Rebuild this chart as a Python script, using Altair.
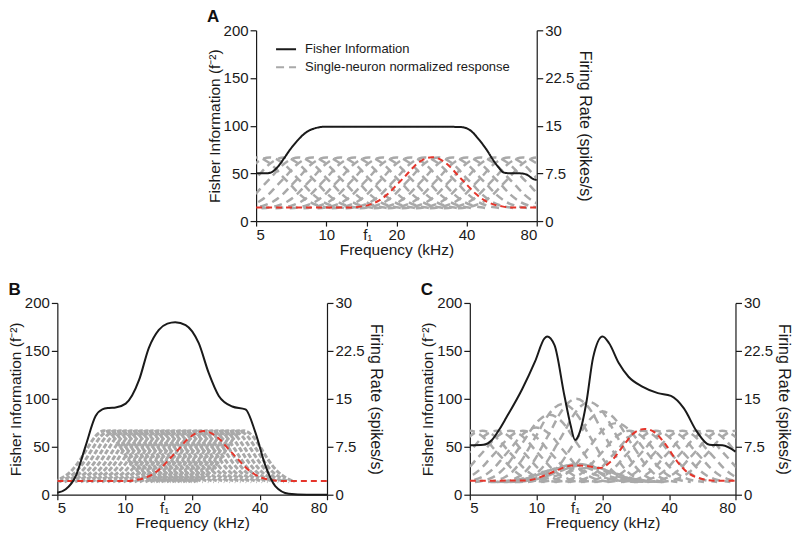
import altair as alt
import pandas as pd

FONT = "Liberation Sans"
INK = "#1a1a1a"
GRAY = "#a9a9a9"
RED = "#e5352b"
BASE_RATE = 2.0
RED_BASE = 2.15
SERIES = ["Fisher Information", "Single-neuron normalized response"]

# single-neuron tuning profiles, offsets in octaves
PROFILE_OCT = [-1.125, -1.0, -0.875, -0.75, -0.625, -0.5, -0.375, -0.25, -0.125, 0.0,
               0.125, 0.25, 0.375, 0.5, 0.625, 0.75, 0.875, 1.0, 1.125]
PROFILE_WIDE = [0.0, 0.02, 0.06, 0.14, 0.27, 0.45, 0.63, 0.82, 0.95, 1.0,
                0.95, 0.82, 0.63, 0.45, 0.27, 0.14, 0.06, 0.02, 0.0]
NARROW_OCT = [-0.75, -0.625, -0.5, -0.375, -0.25, -0.125, 0.0,
              0.125, 0.25, 0.375, 0.5, 0.625, 0.75]
PROFILE_NARROW = [0.0, 0.08, 0.2, 0.4, 0.66, 0.9, 1.0,
                  0.9, 0.66, 0.4, 0.2, 0.08, 0.0]
RED_EDGES = [5, 80]

# ---- panel A ----
A_FREQ = [5, 5.5, 5.8, 6.2, 6.6, 7.0, 7.5, 8.2, 9.0, 10, 15, 20, 30, 38, 41, 45.7,
          49, 52, 55, 57.6, 62, 68, 72, 77.5, 80]
A_FISHER = [50, 50, 51, 57, 66, 75, 84, 93, 97.5, 99, 99, 99, 99, 98.5, 96, 84,
            74, 64, 56, 51, 50, 50, 49, 44, 43]
A_GRAY_CENTERS = [5.0, 5.7, 6.6, 7.6, 8.7, 10.0, 11.5, 13.2, 15.2, 17.4, 20.0, 23.0,
                  26.4, 30.3, 34.8, 40.0, 45.9, 52.8, 60.6, 69.6, 80.0]
A_GRAY_PEAKS = [10, 10, 10, 10, 10, 10, 10, 10, 10, 10, 10, 10,
                10, 10, 10, 10, 10, 10, 10, 10, 10]
A_RED_CENTER = 28.4
A_RED_PEAK = 10.05

# ---- panel B ----
B_FREQ = [5, 5.45, 6.03, 6.69, 7.41, 7.94, 8.5, 9.1, 10.1, 11.6, 12.8, 14.2, 15.5,
          16.8, 18.7, 21.4, 23.7, 26.3, 30.2, 34.6, 38.3, 42.5, 47, 54, 65, 80]
B_FISHER = [2, 5.6, 19, 51, 82, 89, 90.5, 91, 95, 120, 153, 172, 178.5,
            180, 177, 158, 127, 103, 92, 89, 65, 30, 9, 1, 0, 0]
B_GRAY_CENTERS = [8.1, 8.56, 9.05, 9.57, 10.1, 10.7, 11.3, 11.9, 12.6, 13.3, 14.1,
                  14.9, 15.7, 16.6, 17.6, 18.6, 19.6, 20.8, 21.9, 23.2, 24.5, 25.9,
                  27.4, 28.9, 30.6, 32.3, 34.1]
B_GRAY_PEAKS = [10, 10, 10, 10, 10, 10, 10, 10, 10, 10, 10, 10, 10, 10, 10, 10,
                10, 10, 10, 10, 10, 10, 10, 10, 10, 10, 10]
B_RED_CENTER = 22.5
B_RED_PEAK = 9.95

# ---- panel C ----
C_FREQ = [5, 5.76, 6.3, 6.8, 7.3, 8.63, 9.88, 10.9, 11.2, 12.1, 13.4, 14.3, 15.0,
          15.8, 16.9, 18.1, 20, 21.4, 23.7, 26.2, 30.1, 35.6, 40.8, 46.7, 53.4,
          61, 69.8, 80]
C_FISHER = [51.5, 52, 57, 68, 80, 110, 139, 163, 165, 156, 104, 73, 57,
            66, 97, 143, 165, 158, 137, 123, 113, 106, 103, 90, 66,
            52, 51.5, 45]
C_GRAY_CENTERS = [5.0, 5.7, 6.6, 7.6, 8.7, 10.0, 11.5, 13.2, 15.2, 17.4, 20.0, 23.0,
                  26.4, 30.3, 34.8, 40.0, 45.9, 52.8, 60.6, 69.6, 80.0,
                  13.5, 14.5, 15.5, 16.5, 17.5]
C_GRAY_PEAKS = [10, 10, 10, 10, 10, 10.5, 12.5, 14.2, 15.0, 14.5, 13.0, 11.2,
                10, 10, 10, 10, 10, 10, 10, 10, 10,
                4.2, 4.6, 4.8, 4.6, 4.2]
C_RED_FREQ = [5, 8.6, 9.55, 10.9, 12.5, 13.8, 15.3, 17.5, 19.4, 21.8, 25, 27.6,
              31.1, 34.4, 38.7, 43.5, 48.9, 56, 64, 80]
C_RED_RATE = [2.19, 2.22, 2.34, 3.0, 3.86, 4.43, 4.59, 4.43, 4.17, 5.22, 7.8, 9.6,
              10.3, 9.75, 7.8, 5.22, 3.38, 2.5, 2.19, 2.19]

X_TICKS = [5, 10, 15, 20, 40, 80]
FISHER_TICKS = [0, 50, 100, 150, 200]
RATE_TICKS = [0, 7.5, 15, 22.5, 30]


def tuning_rows(centers, peaks, offsets, profile, series, base):
    rows = []
    for i, (c, p) in enumerate(zip(centers, peaks)):
        for o, v in zip(offsets, profile):
            rows.append({"freq": c * 2 ** o, "rate": base + (p - base) * v,
                         "neuron": i, "series": series})
    return pd.DataFrame(rows)


def red_rows(center, peak):
    df = tuning_rows([center], [peak], PROFILE_OCT, PROFILE_WIDE, "red", RED_BASE)
    edges = pd.DataFrame({"freq": RED_EDGES, "rate": [RED_BASE] * len(RED_EDGES),
                          "neuron": 0, "series": "red"})
    return pd.concat([edges, df]).sort_values("freq")


def panel(label, fisher_f, fisher_v, gray_df, red_df, width, height, legend,
          gray_dash, gray_width):
    x = alt.X("freq:Q",
              scale=alt.Scale(type="log", domain=[5, 80], nice=False),
              axis=alt.Axis(values=X_TICKS, title="Frequency (kHz)", titlePadding=0,
                            titleFontSize=15.5, labelPadding=1, tickSize=5,
                            labelExpr="datum.value == 15 ? 'f\u2081' : format(datum.value, '~g')"))
    y_rate = alt.Y("rate:Q", scale=alt.Scale(domain=[0, 30], nice=False),
                   axis=alt.Axis(orient="right", values=RATE_TICKS, format=".1~f",
                                 title="Firing Rate (spikes/s)", titlePadding=3,
                                 titleFontSize=16))
    y_fish = alt.Y("fisher:Q", scale=alt.Scale(domain=[0, 200], nice=False),
                   axis=alt.Axis(orient="left", values=FISHER_TICKS,
                                 title="Fisher Information (f\u207b\u00b2)", titlePadding=1,
                                 titleFontSize=15.5))
    fisher_df = pd.DataFrame({"freq": fisher_f, "fisher": fisher_v, "series": SERIES[0]})

    if legend:
        leg = alt.Legend(title=None, orient="none", legendX=19, legendY=8,
                         symbolType="stroke", symbolSize=400, symbolStrokeWidth=2,
                         labelFontSize=13, labelFont=FONT, labelColor=INK, labelLimit=400,
                         rowPadding=-1, padding=0, labelOffset=8)
        color = alt.Color("series:N", scale=alt.Scale(domain=SERIES, range=[INK, GRAY]), legend=leg)
        dash = alt.StrokeDash("series:N", scale=alt.Scale(domain=SERIES, range=[[1, 0], gray_dash]), legend=leg)
        gray = alt.Chart(gray_df).mark_line(clip=True, strokeWidth=gray_width, interpolate="monotone").encode(
            x=x, y=y_rate, detail="neuron:N", color=color, strokeDash=dash)
        fish = alt.Chart(fisher_df).mark_line(strokeWidth=2, interpolate="monotone").encode(
            x=x, y=y_fish, color=color, strokeDash=dash)
    else:
        gray = alt.Chart(gray_df).mark_line(clip=True, strokeWidth=gray_width, color=GRAY,
                                            strokeDash=gray_dash, interpolate="monotone").encode(
            x=x, y=y_rate, detail="neuron:N")
        fish = alt.Chart(fisher_df).mark_line(strokeWidth=2, color=INK, interpolate="monotone").encode(
            x=x, y=y_fish)

    red = alt.Chart(red_df).mark_line(clip=True, strokeWidth=2, color=RED, strokeDash=[6, 4],
                                      interpolate="monotone").encode(x=x, y=y_rate)
    return alt.layer(alt.layer(gray, red), fish).resolve_scale(y="independent").properties(
        width=width, height=height,
        title=alt.TitleParams(label, anchor="start", frame="bounds", offset=-3))


gray_a = tuning_rows(A_GRAY_CENTERS, A_GRAY_PEAKS, PROFILE_OCT, PROFILE_WIDE, SERIES[1], BASE_RATE)
gray_b = tuning_rows(B_GRAY_CENTERS, B_GRAY_PEAKS, NARROW_OCT, PROFILE_NARROW, SERIES[1], BASE_RATE)
gray_c = tuning_rows(C_GRAY_CENTERS, C_GRAY_PEAKS, PROFILE_OCT, PROFILE_WIDE, SERIES[1], BASE_RATE)
red_a = red_rows(A_RED_CENTER, A_RED_PEAK)
red_b = red_rows(B_RED_CENTER, B_RED_PEAK)
red_c = pd.DataFrame({"freq": C_RED_FREQ, "rate": C_RED_RATE})

pA = panel("A", A_FREQ, A_FISHER, gray_a, red_a, 281, 191, True, [8, 5], 2.5)
pB = panel("B", B_FREQ, B_FISHER, gray_b, red_b, 270, 192, False, [5, 2], 3)
pC = panel("C", C_FREQ, C_FISHER, gray_c, red_c, 266, 192, False, [8, 5], 2.5)

chart = alt.vconcat(pA, alt.hconcat(pB, pC, spacing=36), spacing=23, center=True).resolve_scale(
    color="independent", strokeDash="independent"
).resolve_legend(color="independent", strokeDash="independent").properties(
    padding=0
).configure_view(stroke=None).configure_axis(
    labelFont=FONT, titleFont=FONT, labelFontSize=15, titleFontSize=15.5,
    titleFontWeight="normal", domainColor=INK, tickColor=INK, labelColor=INK,
    titleColor=INK, tickSize=6, grid=False, labelPadding=2, domainWidth=1.2, tickWidth=1.2
).configure_title(font=FONT, fontSize=17, fontWeight="bold", anchor="start", color="#111")

chart.save("out.html", embed_options={"renderer": "svg", "actions": False})
